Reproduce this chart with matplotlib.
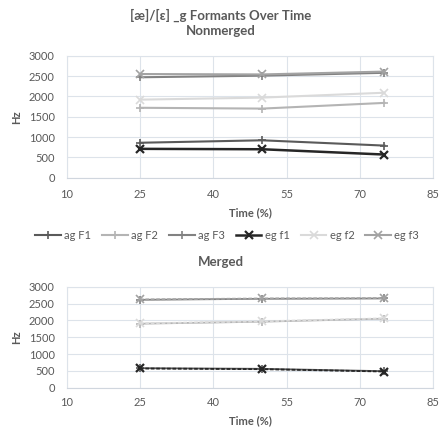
import matplotlib
matplotlib.use("Agg")
import matplotlib.pyplot as plt

plt.rcParams['font.family'] = ['Lato', 'DejaVu Sans']

time = [25, 50, 75]
series_names = ["ag F1", "ag F2", "ag F3", "eg f1", "eg f2", "eg f3"]

# Nonmerged
nm_ag_f1 = [860, 920, 790]
nm_ag_f2 = [1720, 1700, 1840]
nm_ag_f3 = [2470, 2510, 2580]
nm_eg_f1 = [710, 700, 570]
nm_eg_f2 = [1920, 1970, 2090]
nm_eg_f3 = [2550, 2540, 2610]

# Merged
m_ag_f1 = [580, 560, 490]
m_ag_f2 = [1900, 1960, 2050]
m_ag_f3 = [2610, 2640, 2650]
m_eg_f1 = [570, 550, 480]
m_eg_f2 = [1910, 1970, 2060]
m_eg_f3 = [2620, 2650, 2660]

xticks = [10, 25, 40, 55, 70, 85]
yticks = [0, 500, 1000, 1500, 2000, 2500, 3000]

colors = ["#5a5a5a", "#b4b4b4", "#828282", "#262626", "#dadada", "#a3a3a3"]
markers = ["+", "+", "+", "x", "x", "x"]
msizes = [6, 6, 6, 5.5, 5.5, 5.5]
mews = [1.2, 1.2, 1.2, 1.6, 1.2, 1.2]

text_col = "#595959"
grid_col = "#dde3ea"

fig = plt.figure(figsize=(4.41, 4.30), dpi=100)

ax1 = fig.add_axes([0.1512, 0.5867, 0.8313, 0.2837])
ax2 = fig.add_axes([0.1512, 0.0984, 0.8313, 0.2349])

def style(ax, xpad):
    ax.set_xlim(10, 85)
    ax.set_ylim(0, 3000)
    ax.set_xticks(xticks)
    ax.set_yticks(yticks)
    ax.grid(True, color=grid_col, linewidth=0.8)
    ax.set_axisbelow(True)
    for s in ax.spines.values():
        s.set_color(grid_col)
        s.set_linewidth(0.8)
    ax.spines['bottom'].set_color("#d0d6de")
    ax.tick_params(axis='y', length=0, labelsize=8, colors=text_col, pad=8.5)
    ax.tick_params(axis='x', length=0, labelsize=8, colors=text_col, pad=xpad)
    ax.set_ylabel("Hz", fontsize=8, fontweight='bold', color=text_col, labelpad=5)
    ax.set_xlabel("Time (%)", fontsize=8, fontweight='bold', color=text_col, labelpad=5)

nm = [nm_ag_f1, nm_ag_f2, nm_ag_f3, nm_eg_f1, nm_eg_f2, nm_eg_f3]
mg = [m_ag_f1, m_ag_f2, m_ag_f3, m_eg_f1, m_eg_f2, m_eg_f3]

handles = []
for i, vals in enumerate(nm):
    h, = ax1.plot(time, vals, color=colors[i], marker=markers[i], markersize=msizes[i],
                  markeredgewidth=mews[i], linewidth=1.5 if i != 3 else 1.8, label=series_names[i])
    handles.append(h)

for i, vals in enumerate(mg):
    ls = '-' if i < 3 else (0, (2, 1))
    ax2.plot(time, vals, color=colors[i], marker=markers[i], markersize=msizes[i],
             markeredgewidth=mews[i], linewidth=1.3, linestyle=ls)

style(ax1, 8)
style(ax2, 7)

fig.text(0.5, 0.965, "[æ]/[ɛ] _g Formants Over Time", ha='center', va='center',
         fontsize=9.5, fontweight='bold', color=text_col)
fig.text(0.5, 0.928, "Nonmerged", ha='center', va='center',
         fontsize=9.5, fontweight='bold', color=text_col)
fig.text(0.5, 0.391, "Merged", ha='center', va='center',
         fontsize=9.5, fontweight='bold', color=text_col)

leg = fig.legend(handles=handles, loc='center', bbox_to_anchor=(0.515, 0.453), ncol=6,
                 frameon=False, fontsize=8, handlelength=2.3, handletextpad=0.3,
                 columnspacing=1.0, labelcolor=text_col)

fig.savefig("out.png", dpi=100)
